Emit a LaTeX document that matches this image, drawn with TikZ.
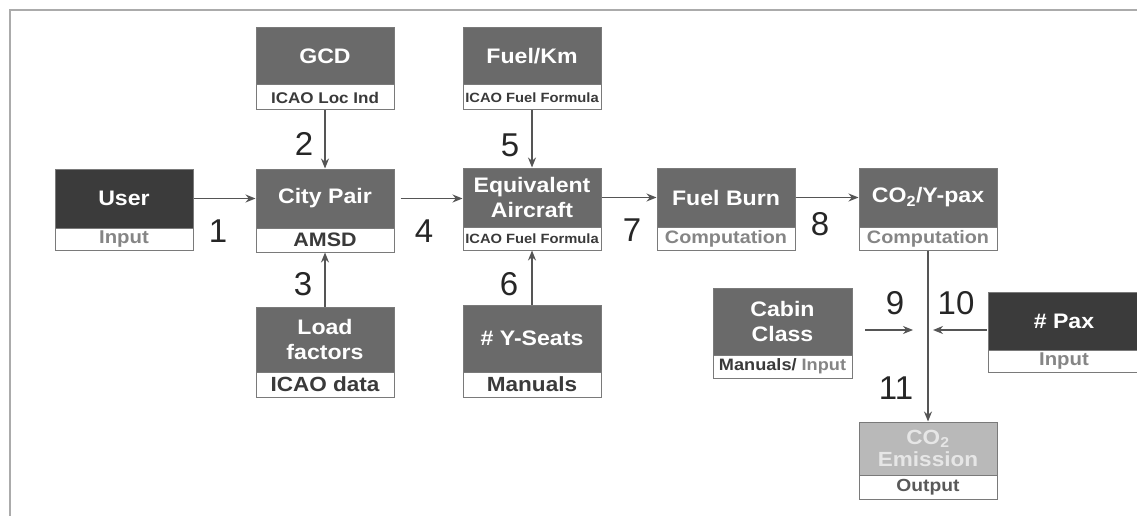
\documentclass[tikz,border=0pt]{standalone}
\usepackage{fontspec}
\setmainfont{Liberation Sans}[FakeStretch=1.1]
\newfontfamily\numfont{Liberation Sans}
\usetikzlibrary{arrows.meta}
\definecolor{darkfill}{HTML}{3B3B3B}
\definecolor{midfill}{HTML}{6A6A6A}
\definecolor{lightfill}{HTML}{B9B9B9}
\definecolor{lighttext}{HTML}{E6E6E6}
\definecolor{edge}{HTML}{7A7A7A}
\definecolor{txtdark}{HTML}{3A3A3A}
\definecolor{txtgray}{HTML}{858585}
\definecolor{arrowcol}{HTML}{555555}
\definecolor{framecol}{HTML}{ABABAB}
\tikzset{
  boxtop/.style={draw=edge, line width=1pt, inner sep=0pt, align=center, text=white,
     font=\fontsize{21}{25}\selectfont\bfseries, minimum width=138pt},
  dark/.style={boxtop, fill=darkfill},
  mid/.style={boxtop, fill=midfill},
  light/.style={boxtop, fill=lightfill, text=lighttext},
  boxbot/.style={draw=edge, line width=1pt, fill=white, inner sep=0pt, align=center,
     text=txtdark, font=\fontsize{18.5}{20}\selectfont\bfseries, minimum width=138pt},
  big/.style={font=\fontsize{20.5}{22}\selectfont\bfseries},
  small/.style={font=\fontsize{15.5}{17}\selectfont\bfseries},
  tiny/.style={font=\fontsize{13.4}{15}\selectfont\bfseries},
  num/.style={font=\numfont\fontsize{33}{36}\selectfont, text=black!85, inner sep=0pt},
  conn/.style={draw=arrowcol, line width=1.3pt, -{Stealth[length=10pt,width=8pt]}},
}
\begin{document}
\begin{tikzpicture}[x=1pt,y=-1pt]
\useasboundingbox (0,0) rectangle (1137,516);
\draw[framecol, line width=2.2pt] (1137,10) -- (10,10) -- (10,516);

% boxes
\node[dark, minimum height=59pt] (user) at (124,198.5) {User};
\node[boxbot, minimum height=22pt, text=txtgray] (userb) at (124,239) {Input};

\node[mid, minimum height=57pt] (gcd) at (325,56.5) {GCD};
\node[boxbot, small, minimum height=25pt] (gcdb) at (325,97.5) {ICAO Loc Ind};

\node[mid, minimum height=59pt] (city) at (325,198.5) {City Pair};
\node[boxbot, minimum height=24pt, font=\fontsize{19.5}{21}\selectfont\bfseries] (cityb) at (325,240) {AMSD};

\node[mid, minimum height=65pt] (load) at (325,339.5) {Load\\factors};
\node[boxbot, big, minimum height=25pt] (loadb) at (325,384.5) {ICAO data};

\node[mid, minimum height=57pt] (fkm) at (532,56.5) {Fuel/Km};
\node[boxbot, tiny, minimum height=25pt] (fkmb) at (532,97.5) {ICAO Fuel Formula};

\node[mid, minimum height=59pt] (eq) at (532,197.5) {Equivalent\\Aircraft};
\node[boxbot, tiny, minimum height=23pt] (eqb) at (532,238.5) {ICAO Fuel Formula};

\node[mid, minimum height=67pt] (seats) at (532,338.5) {\# Y-Seats};
\node[boxbot, big, minimum height=25pt] (seatsb) at (532,384.5) {Manuals};

\node[mid, minimum height=59pt] (burn) at (726,197.5) {Fuel Burn};
\node[boxbot, minimum height=23pt, text=txtgray, font=\fontsize{18}{20}\selectfont\bfseries] (burnb) at (726,238.5) {Computation};

\node[mid, minimum height=59pt] (co2) at (928,197.5) {CO\textsubscript{2}/Y-pax};
\node[boxbot, minimum height=23pt, text=txtgray, font=\fontsize{18}{20}\selectfont\bfseries] (co2b) at (928,238.5) {Computation};

\node[mid, minimum height=67pt, minimum width=139pt] (cabin) at (782.5,321.5) {Cabin\\Class};
\node[boxbot, minimum height=23pt, minimum width=139pt, font=\fontsize{16.5}{18}\selectfont\bfseries] (cabinb) at (782.5,366.5) {Manuals/ \textcolor{txtgray}{Input}};

\node[dark, minimum height=58pt, minimum width=152pt] (pax) at (1064,321) {\# Pax};
\node[boxbot, minimum height=22pt, minimum width=152pt, text=txtgray] (paxb) at (1064,361) {Input};

\node[light, minimum height=53pt, font=\fontsize{20.5}{22}\selectfont\bfseries] (emis) at (928,448.5) {CO\textsubscript{2}\\Emission};
\node[boxbot, minimum height=24pt, text=black!65, font=\fontsize{17.5}{20}\selectfont\bfseries] (emisb) at (928,487) {Output};

% connectors
\draw[conn] (user.east) -- (city.west);
\draw[conn] (gcdb.south) -- (gcd.south |- city.north);
\draw[conn] (load.north) -- (cityb.south);
\draw[conn, shorten <=6pt] (city.east) -- (eq.west |- city.east);
\draw[conn] (fkmb.south) -- (eq.north);
\draw[conn] (seats.north) -- (eqb.south);
\draw[conn] (eq.east) -- (burn.west);
\draw[conn] (burn.east) -- (co2.west);
\draw[conn] (co2b.south) -- (emis.north);
\coordinate (c9s) at (865,330);
\coordinate (c9e) at (913,330);
\coordinate (c10s) at (987,330);
\coordinate (c10e) at (933,330);
\draw[conn] (c9s) -- (c9e);
\draw[conn] (c10s) -- (c10e);

% step numbers
\node[num] (n1) at (218,231) {1};
\node[num] (n2) at (304,144) {2};
\node[num] (n3) at (303,284) {3};
\node[num] (n4) at (424,231) {4};
\node[num] (n5) at (510,145) {5};
\node[num] (n6) at (509,284) {6};
\node[num] (n7) at (632,230) {7};
\node[num] (n8) at (820,224) {8};
\node[num] (n9) at (895,303) {9};
\node[num] (n10) at (956,303) {10};
\node[num] (n11) at (896,388) {11};
\end{tikzpicture}
\end{document}
